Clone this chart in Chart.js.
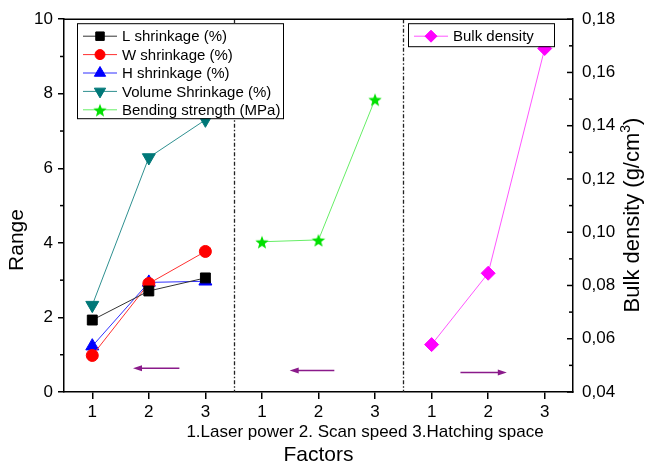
<!DOCTYPE html>
<html>
<head>
<meta charset="utf-8">
<script src="https://cdn.jsdelivr.net/npm/chart.js@4.4.0/dist/chart.umd.min.js"></script>
<style>
    html, body { margin: 0; padding: 0; background: #fff; }
</style>
</head>
<body>
<canvas id="rangeChart" width="647" height="468"></canvas>
<script>
// factor groups: laser power | scan speed | hatching space
const factorLabels = ['1', '2', '3'];
const laserPos = [0, 1, 2];
const scanPos = [3, 4, 5];
const hatchPos = [6, 7, 8];

const lShrinkage = [1.93, 2.71, 3.06];
const wShrinkage = [0.98, 2.91, 3.77];
const hShrinkage = [1.23, 2.94, 2.97];
const volumeShrinkage = [2.33, 6.29, 7.30];
const bendingStrength = [4.03, 4.08, 7.85];
const bulkDensity = [0.0578, 0.0846, 0.169];

const rangeTicks = [0, 2, 4, 6, 8, 10];
const densityTicks = [0.04, 0.06, 0.08, 0.10, 0.12, 0.14, 0.16, 0.18];
const groupSplits = [2.5, 5.5];

// little arrows telling which axis a group reads from
const arrowTails = [1.54, 4.28, 6.51];
const arrowHeads = [0.72, 3.49, 7.33];
const arrowLevels = [0.64, 0.58, 0.52];

const FONT = '"Liberation Sans", Arial, sans-serif';

// filled five point star (Chart.js 'star' is only an asterisk)
function starImage(r, color) {
    const c = document.createElement('canvas');
    c.width = c.height = r * 2 + 2;
    const g = c.getContext('2d');
    g.beginPath();
    for (let i = 0; i < 10; i++) {
        const rr = i % 2 ? r * 0.42 : r;
        const a = -Math.PI / 2 + i * Math.PI / 5;
        g.lineTo(c.width / 2 + rr * Math.cos(a), c.height / 2 + 1 + rr * Math.sin(a));
    }
    g.closePath();
    g.fillStyle = color;
    g.fill();
    return c;
}

function series(label, xs, ys, marker, line, style, radius, axis, rotation) {
    return {
        label,
        data: xs.map((x, i) => ({ x, y: ys[i] })),
        yAxisID: axis || 'y',
        borderColor: line,
        backgroundColor: marker,
        borderWidth: 1,
        pointStyle: style,
        pointRadius: radius,
        pointRotation: rotation || 0,
        pointBackgroundColor: marker,
        pointBorderColor: marker,
        pointBorderWidth: 1,
        fill: false,
        tension: 0
    };
}

const datasets = [
    series('L shrinkage (%)', laserPos, lShrinkage, '#000000', '#333333', 'rect', 7),
    series('W shrinkage (%)', laserPos, wShrinkage, '#ff0000', '#ff3030', 'circle', 6),
    series('H shrinkage (%)', laserPos, hShrinkage, '#0000ff', '#3030ff', 'triangle', 7.5),
    series('Volume Shrinkage (%)', laserPos, volumeShrinkage, '#007878', '#2e9090', 'triangle', 7.5, 'y', 180),
    series('Bending strength (MPa)', scanPos, bendingStrength, '#00e000', '#66ee66', starImage(7, '#00e000'), 7),
    series('Bulk density', hatchPos, bulkDensity, '#ff00ff', '#ff55ff', 'rectRot', 7, 'y2')
];

const leftLegend = [0, 1, 2, 3, 4];
const rightLegend = [5];

function drawLegend(ctx, chart, ids, x, y, w, h, rowH) {
    ctx.save();
    ctx.fillStyle = '#fff';
    ctx.fillRect(x, y, w, h);
    ctx.strokeStyle = '#000';
    ctx.lineWidth = 1;
    ctx.strokeRect(x + 0.5, y + 0.5, w, h);
    ctx.font = '15px ' + FONT;
    ctx.textBaseline = 'middle';
    ids.forEach((id, i) => {
        const ds = chart.data.datasets[id];
        const cy = y + 13 + i * rowH;
        ctx.strokeStyle = ds.borderColor;
        ctx.beginPath();
        ctx.moveTo(x + 6, cy);
        ctx.lineTo(x + 40, cy);
        ctx.stroke();
        ctx.fillStyle = ds.pointBackgroundColor;
        ctx.strokeStyle = ds.pointBorderColor;
        Chart.helpers.drawPoint(ctx, {
            pointStyle: ds.pointStyle,
            rotation: ds.pointRotation,
            radius: ds.pointRadius - 1,
            borderWidth: 1
        }, x + 23, cy);
        ctx.fillStyle = '#000';
        ctx.fillText(ds.label, x + 45, cy + 1);
    });
    ctx.restore();
}

const framePlugin = {
    id: 'frame',
    beforeDatasetsDraw(chart) {
        const { ctx, chartArea: ca, scales } = chart;
        ctx.save();
        ctx.strokeStyle = '#222';
        ctx.lineWidth = 1.3;
        ctx.setLineDash([4, 2, 1.5, 2]);
        groupSplits.forEach(v => {
            const px = Math.round(scales.x.getPixelForValue(v)) + 0.5;
            ctx.beginPath();
            ctx.moveTo(px, ca.top);
            ctx.lineTo(px, ca.bottom);
            ctx.stroke();
        });
        ctx.restore();
    },
    afterDraw(chart) {
        const { ctx, chartArea: ca, scales } = chart;
        ctx.save();
        ctx.strokeStyle = '#000';
        ctx.lineWidth = 1.5;
        // top edge of the frame
        ctx.beginPath();
        ctx.moveTo(ca.left, ca.top);
        ctx.lineTo(ca.right, ca.top);
        ctx.stroke();

        // minor ticks on the left, pointing out
        for (let i = 1; i < rangeTicks.length; i++) {
            const py = scales.y.getPixelForValue((rangeTicks[i] + rangeTicks[i - 1]) / 2);
            ctx.beginPath();
            ctx.moveTo(ca.left - 4, py);
            ctx.lineTo(ca.left, py);
            ctx.stroke();
        }
        // right axis ticks point into the plot
        densityTicks.forEach((v, i) => {
            let py = scales.y2.getPixelForValue(v);
            ctx.beginPath();
            ctx.moveTo(ca.right - 6, py);
            ctx.lineTo(ca.right, py);
            ctx.stroke();
            if (i > 0) {
                py = scales.y2.getPixelForValue((v + densityTicks[i - 1]) / 2);
                ctx.beginPath();
                ctx.moveTo(ca.right - 4, py);
                ctx.lineTo(ca.right, py);
                ctx.stroke();
            }
        });

        // arrows
        ctx.strokeStyle = '#8a1a8a';
        ctx.fillStyle = '#8a1a8a';
        ctx.lineWidth = 1.5;
        arrowTails.forEach((t, i) => {
            const x0 = scales.x.getPixelForValue(t);
            const x1 = scales.x.getPixelForValue(arrowHeads[i]);
            const py = scales.y.getPixelForValue(arrowLevels[i]);
            const dir = Math.sign(x1 - x0);
            ctx.beginPath();
            ctx.moveTo(x0, py);
            ctx.lineTo(x1 - dir * 6, py);
            ctx.stroke();
            ctx.beginPath();
            ctx.moveTo(x1, py);
            ctx.lineTo(x1 - dir * 9, py - 3);
            ctx.lineTo(x1 - dir * 9, py + 3);
            ctx.closePath();
            ctx.fill();
        });

        drawLegend(ctx, chart, leftLegend, ca.left + 13, ca.top + 4, 206, 95, 18.4);
        drawLegend(ctx, chart, rightLegend, ca.left + 344, ca.top + 4, 146, 23, 18);

        // axis titles
        ctx.fillStyle = '#000';
        ctx.textAlign = 'center';
        ctx.textBaseline = 'middle';
        ctx.font = '21px ' + FONT;
        ctx.fillText('Factors', (ca.left + ca.right) / 2, 455);
        ctx.font = '17px ' + FONT;
        ctx.fillText('1.Laser power 2. Scan speed 3.Hatching space', 365, 432);

        ctx.font = '21px ' + FONT;
        ctx.save();
        ctx.translate(17, 240);
        ctx.rotate(-Math.PI / 2);
        ctx.fillText('Range', 0, 0);
        ctx.restore();

        // Bulk density (g/cm^3)
        const a = 'Bulk density (g/cm', sup = '3', b = ')';
        ctx.save();
        ctx.translate(633, 215);
        ctx.rotate(-Math.PI / 2);
        ctx.textAlign = 'left';
        ctx.font = '22px ' + FONT;
        const wa = ctx.measureText(a).width, wb = ctx.measureText(b).width;
        ctx.font = '14px ' + FONT;
        const ws = ctx.measureText(sup).width;
        let cx = -(wa + ws + wb) / 2;
        ctx.font = '22px ' + FONT;
        ctx.fillText(a, cx, 0);
        ctx.font = '14px ' + FONT;
        ctx.fillText(sup, cx + wa, -7);
        ctx.font = '22px ' + FONT;
        ctx.fillText(b, cx + wa + ws, 0);
        ctx.restore();

        ctx.restore();
    }
};

new Chart(document.getElementById('rangeChart'), {
    type: 'line',
    data: { datasets },
    options: {
        responsive: false,
        animation: false,
        events: [],
        layout: { padding: { top: 15, left: 0, right: 0, bottom: 0 } },
        plugins: { legend: { display: false }, tooltip: { enabled: false } },
        scales: {
            x: {
                type: 'linear',
                min: -0.5,
                max: 8.5,
                afterBuildTicks: s => { s.ticks = laserPos.concat(scanPos, hatchPos).map(v => ({ value: v })); },
                afterFit: s => { s.height = 76; },
                ticks: {
                    autoSkip: false,
                    maxRotation: 0,
                    padding: 3,
                    color: '#000',
                    font: { family: FONT, size: 17 },
                    callback: v => factorLabels[v % 3]
                },
                grid: { drawOnChartArea: false, drawTicks: true, tickLength: 7, color: '#000', lineWidth: 1.5 },
                border: { color: '#000', width: 1.5 }
            },
            y: {
                position: 'left',
                min: 0,
                max: 10,
                afterBuildTicks: s => { s.ticks = rangeTicks.map(v => ({ value: v })); },
                afterFit: s => { s.width = 64; },
                ticks: { padding: 5, color: '#000', font: { family: FONT, size: 17 } },
                grid: { drawOnChartArea: false, drawTicks: true, tickLength: 6, color: '#000', lineWidth: 1.5 },
                border: { color: '#000', width: 1.5 }
            },
            y2: {
                position: 'right',
                min: 0.04,
                max: 0.18,
                afterBuildTicks: s => { s.ticks = densityTicks.map(v => ({ value: v })); },
                afterFit: s => { s.width = 74; },
                ticks: {
                    padding: 9,
                    color: '#000',
                    font: { family: FONT, size: 17 },
                    callback: v => v.toFixed(2).replace('.', ',')
                },
                grid: { display: false, drawTicks: false },
                border: { color: '#000', width: 1.5 }
            }
        }
    },
    plugins: [framePlugin]
});
</script>
</body>
</html>
